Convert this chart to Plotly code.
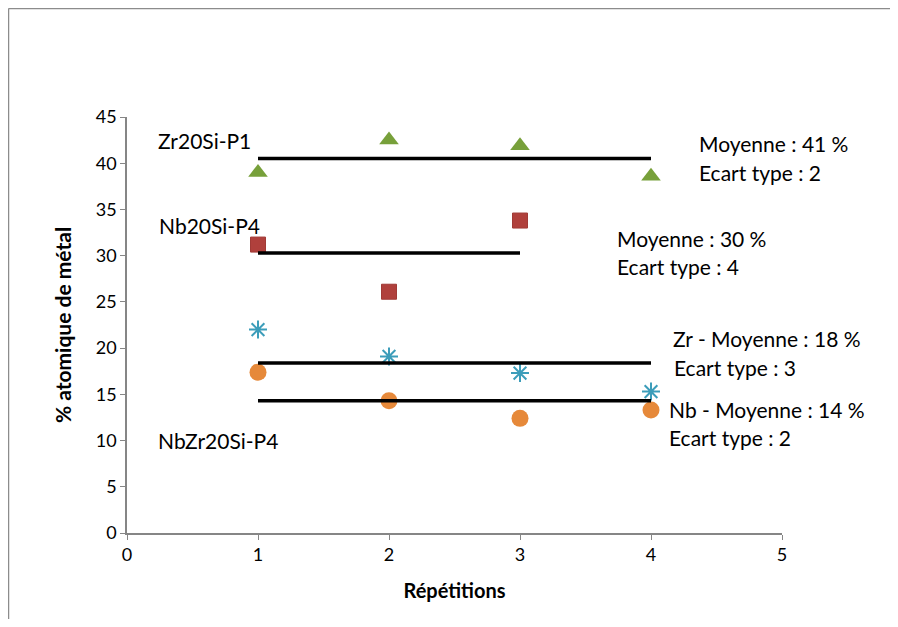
import plotly.graph_objects as go

# Data
rep_zr = [1, 2, 3, 4]
zr20si_p1 = [39.0, 42.5, 41.9, 38.6]
rep_nb = [1, 2, 3]
nb20si_p4 = [31.2, 26.1, 33.8]
rep_nbzr = [1, 2, 3, 4]
nbzr_zr = [22.0, 19.1, 17.3, 15.3]
nbzr_nb = [17.4, 14.3, 12.4, 13.3]

mean_zr20si = 40.5
mean_nb20si = 30.3
mean_nbzr_zr = 18.4
mean_nbzr_nb = 14.3

FONT = "Lato"
OFF = 8  # page body margin
W, H = 898 - 2 * OFF, 627 - 2 * OFF
# plot area in page pixels
PL, PR, PT, PB = 127, 782, 117, 533
PW, PH = PR - PL, PB - PT
L, T = PL - OFF, PT - OFF
R, B = W - (PR - OFF), H - (PB - OFF)

fig = go.Figure()

def mean_line(xs, m):
    fig.add_trace(go.Scatter(x=[xs[0], xs[-1]], y=[m, m], mode="lines",
                             line=dict(color="black", width=3.5), showlegend=False, hoverinfo="skip"))

fig.add_trace(go.Scatter(x=rep_zr, y=zr20si_p1, mode="markers",
                         marker=dict(symbol="triangle-up", size=17, color="#77A03A"), showlegend=False))
fig.add_trace(go.Scatter(x=rep_nb, y=nb20si_p4, mode="markers",
                         marker=dict(symbol="square", size=15, color="#B0403C",
                                     line=dict(color="#A03A36", width=1)), showlegend=False))
fig.add_trace(go.Scatter(x=rep_nbzr, y=nbzr_zr, mode="markers",
                         marker=dict(symbol="asterisk", size=15, color="#4BACC6",
                                     line=dict(color="#3C9DBA", width=2)), showlegend=False))
fig.add_trace(go.Scatter(x=rep_nbzr, y=nbzr_nb, mode="markers",
                         marker=dict(symbol="circle", size=17, color="#E6893A"), showlegend=False))

mean_line(rep_zr, mean_zr20si)
mean_line(rep_nb, mean_nb20si)
mean_line(rep_nbzr, mean_nbzr_zr)
mean_line(rep_nbzr, mean_nbzr_nb)

def px2x(px):
    return (px - PL) / PW * 5

def py2y(py):
    return (PB - py) / PH * 45

annots = [
    ("Zr20Si-P1", 156, 140),
    ("Nb20Si-P4", 157, 225),
    ("NbZr20Si-P4", 156, 440),
    ("Moyenne : 41 %", 697, 143),
    ("Ecart type : 2", 697, 172),
    ("Moyenne : 30 %", 615, 238),
    ("Ecart type : 4", 615, 266),
    ("Zr - Moyenne : 18 %", 671, 338),
    ("Ecart type : 3", 672, 367),
    ("Nb - Moyenne : 14 %", 667, 409),
    ("Ecart type : 2", 667, 437),
]
for txt, px, py in annots:
    fig.add_annotation(x=px2x(px), y=py2y(py), text=txt, showarrow=False,
                       xanchor="left", yanchor="middle",
                       font=dict(family=FONT, size=21, color="black"))

# outer frame (left and top edges visible)
fx = (OFF + 0.5 - PL) / PW
fy = (PB - OFF - 0.5) / PH
fig.add_shape(type="line", xref="paper", yref="paper",
              x0=fx, x1=fx, y0=fy, y1=(PB - 700) / PH,
              line=dict(color="#8c8c8c", width=1.5))
fig.add_shape(type="line", xref="paper", yref="paper",
              x0=fx, x1=(1000 - PL) / PW, y0=fy, y1=fy,
              line=dict(color="#8c8c8c", width=1.5))

axis_common = dict(showgrid=False, zeroline=False, showline=True, linecolor="#868686",
                   linewidth=1.5, ticks="outside", tickcolor="#868686", ticklen=5,
                   tickfont=dict(family=FONT, size=18, color="black"))

fig.update_xaxes(range=[0, 5], dtick=1, tick0=0, **axis_common,
                 title=dict(text="<b>Répétitions</b>", font=dict(family=FONT, size=20, color="black"),
                            standoff=20))
fig.update_yaxes(range=[0, 45], dtick=5, tick0=0, **axis_common,
                 title=dict(text="<b>% atomique de métal</b>", font=dict(family=FONT, size=21, color="black"),
                            standoff=18))

fig.update_layout(width=W, height=H, margin=dict(l=L, r=R, t=T, b=B, autoexpand=False),
                  plot_bgcolor="white", paper_bgcolor="white")

fig.write_html("out.html")
